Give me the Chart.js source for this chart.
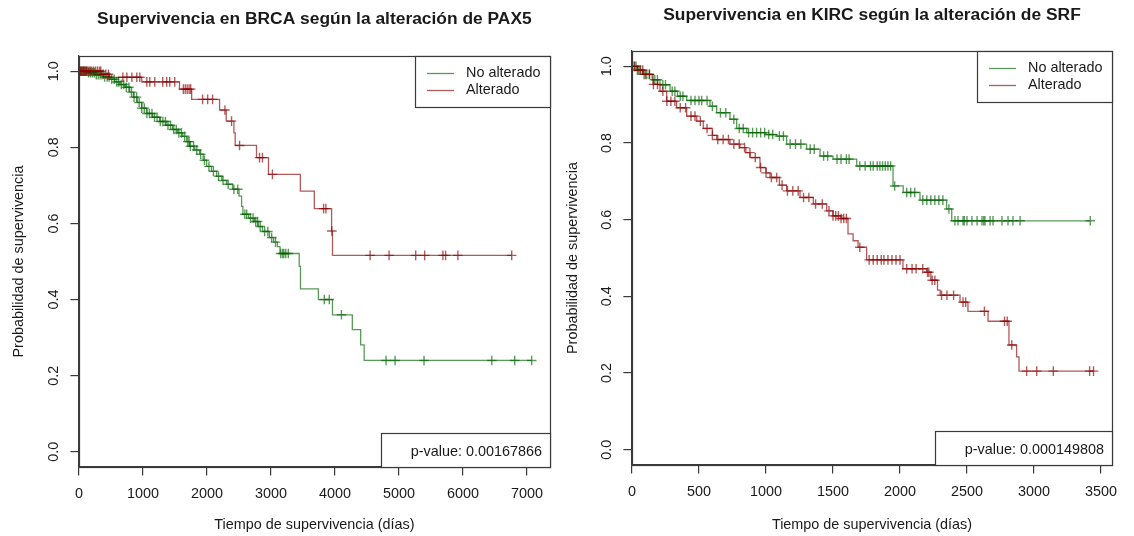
<!DOCTYPE html>
<html>
<head>
<meta charset="utf-8">
<title>Supervivencia BRCA / KIRC</title>
<script src="https://cdn.jsdelivr.net/npm/chart.js@4"></script>
<style>
  body { margin: 0; background: #fff; }
  #wrap { position: relative; width: 1134px; height: 536px; overflow: hidden; }
  canvas { position: absolute; top: 0; }
  #brca { left: 0; }
  #kirc { left: 556px; }
</style>
</head>
<body>
<div id="wrap">
  <canvas id="brca" width="556" height="536"></canvas>
  <canvas id="kirc" width="578" height="536"></canvas>
</div>
<script>
// BRCA, PAX5 – Kaplan-Meier steps (days, survival after each event) and censored times
const brcaNoAltTime = [0,150,260,380,480,560,640,720,790,850,910,980,1060,1150,1260,1360,1460,1540,1620,1680,1730,1810,1885,1940,1994,2070,2150,2230,2305,2400,2500,2540,2560,2650,2741,2800,2866,2975,3040,3100,3140,3440,3460,3740,3960,4270,4400,4455];
const brcaNoAltSurv = [1,0.996,0.991,0.985,0.979,0.972,0.965,0.958,0.945,0.932,0.918,0.903,0.889,0.879,0.868,0.858,0.847,0.838,0.829,0.815,0.803,0.793,0.782,0.766,0.75,0.737,0.724,0.713,0.703,0.69,0.672,0.645,0.624,0.614,0.605,0.592,0.579,0.563,0.551,0.539,0.521,0.487,0.428,0.40,0.36,0.321,0.281,0.24];
const brcaNoAltCens = [20,45,70,95,120,150,180,210,240,270,300,330,360,400,440,470,510,550,590,620,660,700,740,780,820,860,900,940,980,1020,1060,1100,1140,1180,1220,1270,1310,1350,1390,1430,1480,1520,1560,1600,1650,1700,1720,1740,1790,1840,1900,1960,2030,2100,2180,2250,2330,2420,2480,2590,2620,2680,2720,2760,2790,2830,2900,2950,3010,3070,3150,3180,3200,3230,3270,3832,3910,4100,4797,4938,5390,6449,6807,7072];

const brcaAltTime = [0,350,480,980,1570,1760,2196,2300,2420,2440,2773,2960,3458,3676,3946,3960];
const brcaAltSurv = [1,0.992,0.984,0.972,0.953,0.926,0.898,0.869,0.838,0.805,0.773,0.729,0.685,0.639,0.58,0.516];
const brcaAltCens = [10,25,40,55,70,85,100,120,140,160,180,200,230,260,290,320,340,380,420,460,685,748,826,903,950,1059,1106,1184,1308,1370,1417,1495,1630,1660,1690,1720,1745,1931,2010,2087,2280,2383,2508,2820,2866,3022,3821,3857,3950,4548,4844,5260,5400,5685,5727,5919,6760];

// KIRC, SRF
const kircNoAltTime = [0,40,82,150,209,284,340,408,582,632,731,781,856,1000,1080,1154,1303,1403,1500,1677,1948,2024,2149,2348,2386];
const kircNoAltSurv = [1,0.99,0.979,0.965,0.952,0.935,0.922,0.911,0.896,0.879,0.862,0.838,0.827,0.822,0.818,0.797,0.784,0.766,0.758,0.740,0.688,0.671,0.651,0.628,0.597];
const kircNoAltCens = [15,30,50,65,90,110,130,170,190,230,250,300,320,360,380,440,470,500,520,560,600,660,700,760,800,830,870,900,930,960,990,1020,1050,1100,1130,1180,1220,1260,1330,1360,1430,1460,1530,1560,1600,1620,1700,1740,1780,1800,1830,1850,1870,1890,1910,1930,1960,2050,2080,2110,2170,2200,2230,2260,2290,2320,2365,2410,2433,2470,2480,2500,2537,2575,2612,2625,2634,2672,2694,2761,2806,2843,2896,3420];

const kircAltTime = [0,40,82,157,209,259,333,408,483,532,600,632,731,806,850,881,955,1000,1030,1100,1154,1254,1353,1453,1500,1560,1612,1650,1687,1751,2022,2199,2230,2280,2300,2448,2507,2657,2813,2870,2888];
const kircAltSurv = [1,0.99,0.979,0.953,0.935,0.909,0.892,0.870,0.857,0.838,0.82,0.809,0.797,0.788,0.775,0.762,0.736,0.722,0.710,0.69,0.675,0.658,0.641,0.623,0.61,0.603,0.563,0.545,0.528,0.495,0.472,0.463,0.442,0.416,0.403,0.385,0.361,0.335,0.273,0.242,0.205];
const kircAltCens = [20,40,60,80,100,130,160,190,230,260,290,320,360,400,440,470,510,560,600,640,680,720,760,800,840,880,920,960,1000,1040,1080,1120,1160,1200,1240,1280,1320,1370,1420,1470,1500,1520,1540,1560,1580,1600,1700,1770,1800,1830,1860,1880,1910,1940,1970,2000,2050,2090,2120,2170,2205,2215,2240,2260,2310,2350,2400,2470,2490,2630,2780,2800,2834,2945,3020,3144,3415,3444];

const brcaXTicks = [0,1000,2000,3000,4000,5000,6000,7000];
const kircXTicks = [0,500,1000,1500,2000,2500,3000,3500];
const yTicks = [0,0.2,0.4,0.6,0.8,1.0];
const groupLabels = ['No alterado', 'Alterado'];

const fontFamily = '"Liberation Sans", Arial, Helvetica, sans-serif';
const textColor = '#1a1a1a';
const axisColor = '#3a3a3a';
const greenCol = 'rgba(0, 100, 0, 0.65)';
const redCol = 'rgba(139, 0, 0, 0.65)';

// step value of the curve at time t
function survAt(times, surv, t) {
    let s = 1;
    for (let i = 0; i < times.length; i++) {
        if (times[i] <= t) s = surv[i]; else break;
    }
    return s;
}
function curvePoints(times, surv, cens) {
    const pts = times.map((t, i) => ({ x: t, y: surv[i] }));
    pts.push({ x: Math.max(...cens), y: surv[surv.length - 1] });
    return pts;
}
function censorPoints(times, surv, cens) {
    return cens.map(t => ({ x: t, y: survAt(times, surv, t) }));
}

// main title, centred over the plot region like base R graphics
const plotTitle = {
    id: 'plotTitle',
    afterDraw(chart, args, opts) {
        const { ctx, chartArea: a } = chart;
        ctx.save();
        ctx.font = `bold 17.4px ${fontFamily}`;
        ctx.fillStyle = textColor;
        ctx.textAlign = 'center';
        ctx.textBaseline = 'middle';
        ctx.fillText(opts.text, (a.left + a.right) / 2, opts.y);
        ctx.restore();
    }
};

// full frame around the plot region
const plotFrame = {
    id: 'plotFrame',
    afterDatasetsDraw(chart) {
        const { ctx, chartArea: a } = chart;
        ctx.save();
        ctx.strokeStyle = axisColor;
        ctx.lineWidth = 1.2;
        ctx.strokeRect(Math.round(a.left) + 0.5, Math.round(a.top) + 0.5, Math.round(a.right - a.left), Math.round(a.bottom - a.top));
        ctx.restore();
    }
};

// legend box in the top right corner
const kmLegend = {
    id: 'kmLegend',
    afterDatasetsDraw(chart) {
        const { ctx, chartArea: a } = chart;
        const items = chart.data.datasets.filter(d => d.showLine);
        ctx.save();
        ctx.font = `14.4px ${fontFamily}`;
        const textW = Math.max(...items.map(d => ctx.measureText(d.label).width));
        const w = Math.round(51 + textW + 10), h = 51;
        const x0 = Math.round(a.right) - w, y0 = Math.round(a.top);
        ctx.fillStyle = '#fff';
        ctx.fillRect(x0, y0, w, h);
        ctx.strokeStyle = axisColor;
        ctx.lineWidth = 1.2;
        ctx.strokeRect(x0 + 0.5, y0 + 0.5, w, h);
        items.forEach((d, i) => {
            const y = y0 + 17.5 + i * 17;
            ctx.strokeStyle = d.borderColor;
            ctx.lineWidth = 1.3;
            ctx.beginPath(); ctx.moveTo(x0 + 12, y); ctx.lineTo(x0 + 39, y); ctx.stroke();
            ctx.fillStyle = textColor;
            ctx.textBaseline = 'middle';
            ctx.fillText(d.label, x0 + 51, y);
        });
        ctx.restore();
    }
};

// log-rank p-value box in the bottom right corner
const pvalBox = {
    id: 'pvalBox',
    afterDatasetsDraw(chart, args, opts) {
        const { ctx, chartArea: a } = chart;
        ctx.save();
        ctx.font = `14.4px ${fontFamily}`;
        const tw = ctx.measureText(opts.text).width;
        const w = Math.round(tw + 38), h = 34;
        const x0 = Math.round(a.right) - w, y0 = Math.round(a.bottom) - h;
        ctx.fillStyle = '#fff';
        ctx.fillRect(x0, y0, w, h);
        ctx.strokeStyle = axisColor;
        ctx.lineWidth = 1.2;
        ctx.strokeRect(x0 + 0.5, y0 + 0.5, w, h);
        ctx.fillStyle = textColor;
        ctx.textAlign = 'right';
        ctx.textBaseline = 'middle';
        ctx.fillText(opts.text, x0 + w - 8, y0 + h / 2 + 2);
        ctx.restore();
    }
};

function kmChart(id, cfg) {
    const font = { family: fontFamily, size: 14.4 };
    const grid = { drawOnChartArea: false, drawTicks: true, tickLength: 8.6, color: axisColor, lineWidth: 1.2 };
    const border = { display: true, color: axisColor, width: 1.2 };
    const cross = { showLine: false, pointStyle: 'cross', pointRadius: 4.8, pointBorderWidth: 1.4 };
    return new Chart(document.getElementById(id), {
        type: 'scatter',
        data: {
            datasets: [
                { label: groupLabels[0], data: curvePoints(...cfg.noAlt), showLine: true, stepped: 'before', borderColor: greenCol, borderWidth: 1.3, pointRadius: 0, order: 3 },
                { label: groupLabels[0] + ' (cens.)', data: censorPoints(...cfg.noAlt), ...cross, borderColor: greenCol, order: 2 },
                { label: groupLabels[1], data: curvePoints(...cfg.alt), showLine: true, stepped: 'before', borderColor: redCol, borderWidth: 1.3, pointRadius: 0, order: 1 },
                { label: groupLabels[1] + ' (cens.)', data: censorPoints(...cfg.alt), ...cross, borderColor: redCol, order: 0 }
            ]
        },
        plugins: [plotFrame, kmLegend, pvalBox, plotTitle],
        options: {
            responsive: false,
            animation: false,
            events: [],
            layout: { padding: { left: 0, right: cfg.padRight, top: cfg.padTop, bottom: 0 } },
            plugins: {
                legend: { display: false },
                tooltip: { enabled: false },
                title: { display: false },
                plotTitle: { text: cfg.title, y: cfg.titleY },
                pvalBox: { text: cfg.pval }
            },
            scales: {
                x: {
                    type: 'linear', min: 0, max: cfg.xMax,
                    afterBuildTicks: s => { s.ticks = cfg.xTicks.map(v => ({ value: v })); },
                    ticks: { font, color: textColor, padding: 10, maxRotation: 0, autoSkip: false, callback: v => String(v) },
                    grid, border,
                    title: { display: true, text: 'Tiempo de supervivencia (días)', font, color: textColor, padding: { top: 0, bottom: 2.4 } },
                    afterFit: s => { s.height = cfg.xAxisH; s.paddingLeft = 0; s.paddingRight = 0; }
                },
                y: {
                    type: 'linear', min: -0.04, max: 1.04,
                    afterBuildTicks: s => { s.ticks = yTicks.map(v => ({ value: v })); },
                    ticks: { font, color: textColor, padding: 6.4, minRotation: 90, maxRotation: 90, crossAlign: 'center', autoSkip: false, callback: v => v.toFixed(1) },
                    grid, border,
                    title: { display: true, text: 'Probabilidad de supervivencia', font, color: textColor, padding: { top: cfg.yTitlePad, bottom: 0 } },
                    afterFit: s => { s.width = cfg.yAxisW; s.paddingTop = 0; s.paddingBottom = 0; }
                }
            }
        }
    });
}

kmChart('brca', {
    title: 'Supervivencia en BRCA según la alteración de PAX5',
    pval: 'p-value: 0.00167866',
    noAlt: [brcaNoAltTime, brcaNoAltSurv, brcaNoAltCens],
    alt: [brcaAltTime, brcaAltSurv, brcaAltCens],
    xTicks: brcaXTicks, xMax: 7355,
    padRight: 5, padTop: 56, titleY: 19,
    xAxisH: 69, yAxisW: 79, yTitlePad: 9.9
});

kmChart('kirc', {
    title: 'Supervivencia en KIRC según la alteración de SRF',
    pval: 'p-value: 0.000149808',
    noAlt: [kircNoAltTime, kircNoAltSurv, kircNoAltCens],
    alt: [kircAltTime, kircAltSurv, kircAltCens],
    xTicks: kircXTicks, xMax: 3582,
    padRight: 22, padTop: 51, titleY: 15,
    xAxisH: 71, yAxisW: 76, yTitlePad: 7.9
});
</script>
</body>
</html>
